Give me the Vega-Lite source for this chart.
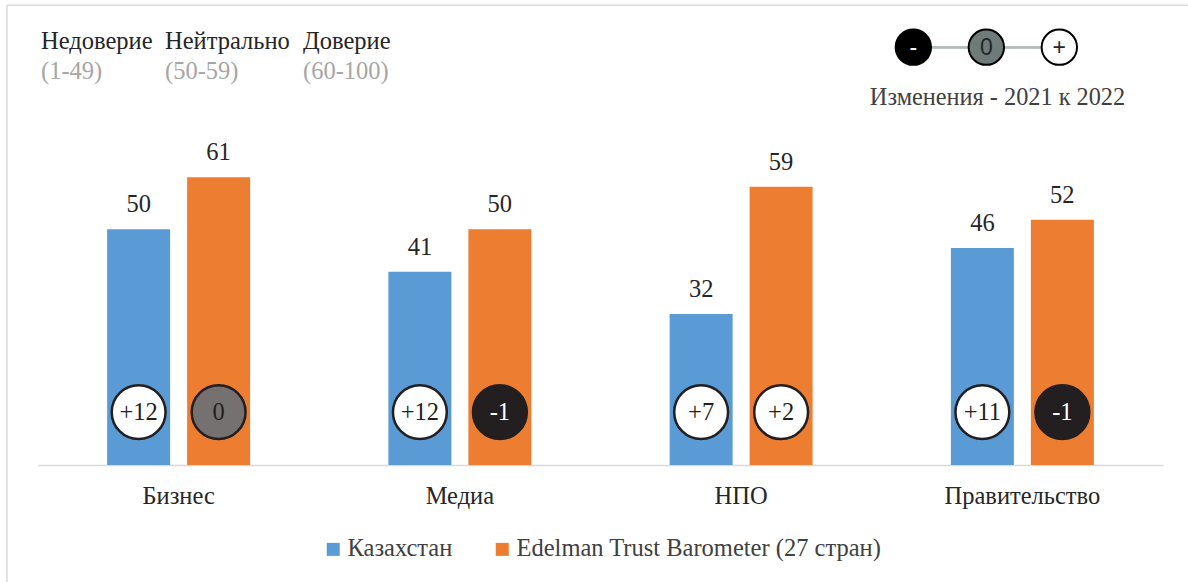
{
  "$schema": "https://vega.github.io/schema/vega-lite/v6.json",
  "width": 1125,
  "height": 448,
  "autosize": {"type": "none"},
  "padding": {"left": 38, "top": 17, "right": 25, "bottom": 117},
  "background": "white",
  "config": {"view": {"stroke": null}, "font": "Times New Roman, Liberation Serif, serif"},
  "datasets": {
    "trust": [
      {"category": "Бизнес", "series": "Казахстан", "value": 50, "change": "+12"},
      {"category": "Бизнес", "series": "Edelman Trust Barometer (27 стран)", "value": 61, "change": "0"},
      {"category": "Медиа", "series": "Казахстан", "value": 41, "change": "+12"},
      {"category": "Медиа", "series": "Edelman Trust Barometer (27 стран)", "value": 50, "change": "-1"},
      {"category": "НПО", "series": "Казахстан", "value": 32, "change": "+7"},
      {"category": "НПО", "series": "Edelman Trust Barometer (27 стран)", "value": 59, "change": "+2"},
      {"category": "Правительство", "series": "Казахстан", "value": 46, "change": "+11"},
      {"category": "Правительство", "series": "Edelman Trust Barometer (27 стран)", "value": 52, "change": "-1"}
    ],
    "signs": [
      {"symbol": "-", "sign": -1},
      {"symbol": "0", "sign": 0},
      {"symbol": "+", "sign": 1}
    ],
    "frame": [{"edge": "frame"}],
    "caption": [{"caption": "Изменения - 2021 к 2022"}],
    "level1": [{"level": "Недоверие", "range": "(1-49)"}],
    "level2": [{"level": "Нейтрально", "range": "(50-59)"}],
    "level3": [{"level": "Доверие", "range": "(60-100)"}]
  },
  "layer": [
    {
      "data": {"name": "trust"},
      "encoding": {
        "x": {
          "field": "category", "type": "nominal",
          "sort": ["Бизнес", "Медиа", "НПО", "Правительство"],
          "scale": {"paddingInner": 0.4916, "paddingOuter": 0.2458},
          "axis": {
            "title": null, "labelAngle": 0, "ticks": false,
            "domainColor": "#d9d9d9", "domainWidth": 1.5,
            "labelFont": "Times New Roman, Liberation Serif, serif", "labelFontSize": 24.5,
            "labelColor": "#262626", "labelPadding": 19
          }
        },
        "xOffset": {
          "field": "series", "type": "nominal",
          "sort": ["Казахстан", "Edelman Trust Barometer (27 стран)"],
          "scale": {"paddingInner": 0.2125, "paddingOuter": 0}
        }
      },
      "layer": [
        {
          "mark": {"type": "bar"},
          "encoding": {
            "y": {"field": "value", "type": "quantitative", "scale": {"domain": [0, 95], "nice": false}, "axis": null},
            "color": {
              "field": "series", "type": "nominal",
              "sort": ["Казахстан", "Edelman Trust Barometer (27 стран)"],
              "scale": {"domain": ["Казахстан", "Edelman Trust Barometer (27 стран)"], "range": ["#5b9bd5", "#ed7d31"]},
              "legend": {
                "orient": "none", "legendX": 283, "legendY": 520,
                "direction": "horizontal", "title": null,
                "symbolType": "square", "symbolSize": 169, "symbolStrokeWidth": 0,
                "labelFont": "Times New Roman, Liberation Serif, serif", "labelFontSize": 24.5, "labelColor": "#404040",
                "labelOffset": 2, "columnPadding": 37, "labelLimit": 500
              }
            }
          }
        },
        {
          "mark": {"type": "text", "baseline": "alphabetic", "dy": -17, "fontSize": 24.5, "color": "#262626"},
          "encoding": {
            "y": {"field": "value", "type": "quantitative", "scale": {"domain": [0, 95], "nice": false}},
            "text": {"field": "value", "type": "quantitative"}
          }
        },
        {
          "mark": {"type": "point", "shape": "circle", "filled": true, "size": 2900, "stroke": "#231f20", "strokeWidth": 2.5, "opacity": 1},
          "encoding": {
            "y": {"datum": 11.2},
            "fill": {
              "condition": [
                {"test": "toNumber(datum.change) === 0", "value": "#767171"},
                {"test": "toNumber(datum.change) < 0", "value": "#231f20"}
              ],
              "value": "#ffffff"
            }
          }
        },
        {
          "mark": {"type": "text", "baseline": "middle", "fontSize": 24.5, "dy": 1},
          "encoding": {
            "y": {"datum": 11.2},
            "text": {"field": "change", "type": "nominal"},
            "color": {
              "condition": {"test": "toNumber(datum.change) < 0", "value": "#ffffff"},
              "value": "#231f20"
            }
          }
        }
      ]
    },
    {
      "data": {"name": "frame"},
      "layer": [
        {
          "mark": {"type": "rule", "color": "#d9d9d9", "strokeWidth": 1.5},
          "encoding": {
            "x": {"datum": -2.76, "type": "quantitative", "scale": {"domain": [0, 100], "nice": false, "zero": false}, "axis": null},
            "y": {"datum": 97.5},
            "y2": {"datum": -25}
          }
        },
        {
          "mark": {"type": "rule", "color": "#d9d9d9", "strokeWidth": 1.5},
          "encoding": {
            "x": {"datum": -2.76, "type": "quantitative", "scale": {"domain": [0, 100], "nice": false, "zero": false}, "axis": null},
            "x2": {"datum": 102.3},
            "y": {"datum": 97.5}
          }
        }
      ]
    },
    {
      "data": {"name": "level1"},
      "encoding": {
        "x": {"datum": 0.27, "type": "quantitative", "scale": {"domain": [0, 100], "nice": false, "zero": false}, "axis": null}
      },
      "layer": [
        {"mark": {"type": "text", "align": "left", "baseline": "alphabetic", "fontSize": 24.5, "color": "#262626"},
         "encoding": {"y": {"datum": 88.2}, "text": {"field": "level"}}},
        {"mark": {"type": "text", "align": "left", "baseline": "alphabetic", "fontSize": 24.5, "color": "#a6a6a6"},
         "encoding": {"y": {"datum": 81.9}, "text": {"field": "range"}}}
      ]
    },
    {
      "data": {"name": "level2"},
      "encoding": {
        "x": {"datum": 11.29, "type": "quantitative", "scale": {"domain": [0, 100], "nice": false, "zero": false}, "axis": null}
      },
      "layer": [
        {"mark": {"type": "text", "align": "left", "baseline": "alphabetic", "fontSize": 24.5, "color": "#262626"},
         "encoding": {"y": {"datum": 88.2}, "text": {"field": "level"}}},
        {"mark": {"type": "text", "align": "left", "baseline": "alphabetic", "fontSize": 24.5, "color": "#a6a6a6"},
         "encoding": {"y": {"datum": 81.9}, "text": {"field": "range"}}}
      ]
    },
    {
      "data": {"name": "level3"},
      "encoding": {
        "x": {"datum": 23.56, "type": "quantitative", "scale": {"domain": [0, 100], "nice": false, "zero": false}, "axis": null}
      },
      "layer": [
        {"mark": {"type": "text", "align": "left", "baseline": "alphabetic", "fontSize": 24.5, "color": "#262626"},
         "encoding": {"y": {"datum": 88.2}, "text": {"field": "level"}}},
        {"mark": {"type": "text", "align": "left", "baseline": "alphabetic", "fontSize": 24.5, "color": "#a6a6a6"},
         "encoding": {"y": {"datum": 81.9}, "text": {"field": "range"}}}
      ]
    },
    {
      "data": {"name": "caption"},
      "mark": {"type": "text", "align": "center", "baseline": "alphabetic", "fontSize": 24.3, "color": "#404040"},
      "encoding": {
        "x": {"datum": 85.29, "type": "quantitative", "scale": {"domain": [0, 100], "nice": false, "zero": false}, "axis": null},
        "y": {"datum": 76.3},
        "text": {"field": "caption"}
      }
    },
    {
      "data": {"name": "signs"},
      "encoding": {
        "x": {"field": "sign", "type": "quantitative", "scale": {"domain": [-12.99, 2.42], "nice": false, "zero": false}, "axis": null}
      },
      "layer": [
        {
          "mark": {"type": "rule", "color": "#b4bfbb", "strokeWidth": 2.5},
          "encoding": {
            "x": {"datum": -1, "type": "quantitative", "scale": {"domain": [-12.99, 2.42], "nice": false, "zero": false}, "axis": null},
            "x2": {"datum": 1},
            "y": {"datum": 88.6}
          }
        },
        {
          "mark": {"type": "point", "shape": "circle", "filled": true, "size": 1250, "stroke": "#000000", "strokeWidth": 2, "opacity": 1},
          "encoding": {
            "y": {"datum": 88.6},
            "fill": {
              "condition": [
                {"test": "datum.sign < 0", "value": "#000000"},
                {"test": "datum.sign === 0", "value": "#6e7b78"}
              ],
              "value": "#ffffff"
            }
          }
        },
        {
          "mark": {"type": "text", "baseline": "middle", "fontSize": 23, "font": "Liberation Sans", "dy": 1},
          "encoding": {
            "y": {"datum": 88.6},
            "text": {"field": "symbol"},
            "color": {
              "condition": {"test": "datum.sign < 0", "value": "#ffffff"},
              "value": "#262626"
            }
          }
        }
      ]
    }
  ],
  "resolve": {"scale": {"x": "independent"}}
}
